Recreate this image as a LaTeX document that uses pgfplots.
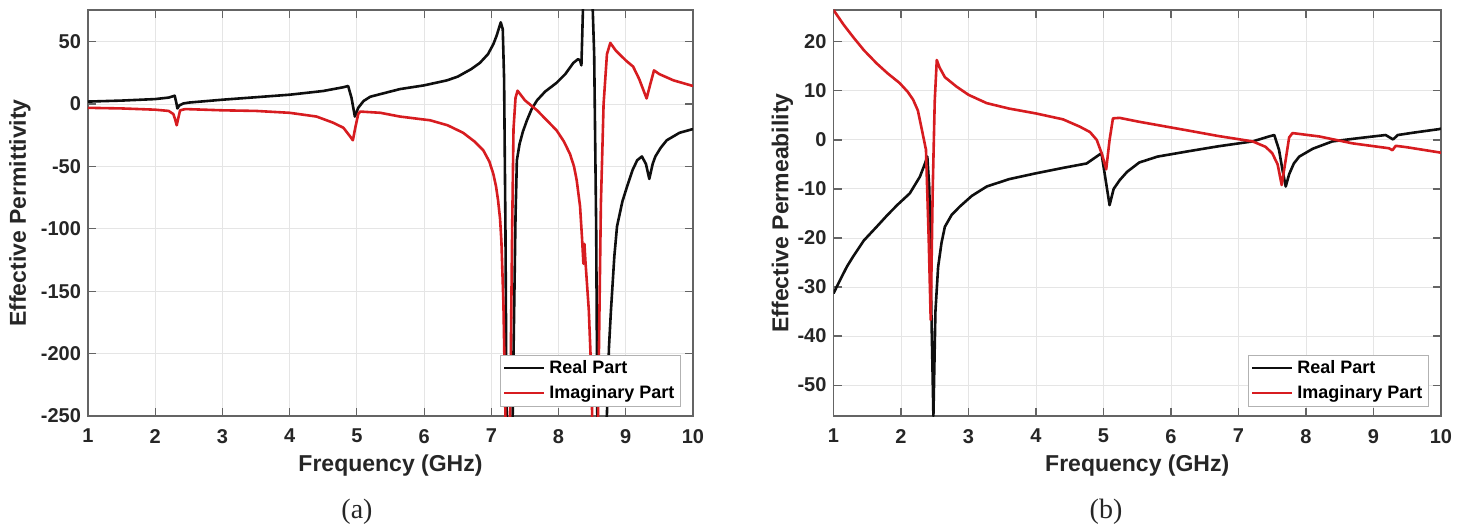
\documentclass[border=0pt]{standalone}
\usepackage{pgfplots}
\pgfplotsset{compat=1.18}
\usepackage{fontspec}
\setmainfont{Liberation Sans}
\newfontfamily\capfont{Liberation Serif}
\definecolor{myred}{RGB}{215,28,32}
\definecolor{myblack}{RGB}{15,15,15}
\definecolor{axgray}{RGB}{100,100,100}

\pgfplotsset{
 myax/.style={
  scale only axis, height=203pt,
  xmin=1, xmax=10, xtick={1,2,...,10},
  grid=major, major grid style={gray!20, line width=0.5pt},
  axis line style={axgray, line width=0.6pt},
  tick style={axgray, line width=0.6pt},
  tick align=inside, major tick length=4pt,
  ticklabel style={font=\bfseries\fontsize{10}{12}\selectfont, text=black!85},
  /pgf/number format/assume math mode=true,
  xticklabel style={yshift=-3pt},
  label style={font=\bfseries\fontsize{11.5}{13}\selectfont, text=black!85},
  xlabel style={at={(axis description cs:0.5,0)}, anchor=center, yshift=-25pt},
  legend cell align=left,
  legend image code/.code={\draw[#1] (0pt,0pt) -- (20pt,0pt);},
  legend style={at={(axis description cs:1,0)}, anchor=south east, xshift=-6pt, yshift=4.7pt,
    draw=gray!60, line width=0.5pt, font=\bfseries\fontsize{9}{10}\selectfont,
    inner xsep=1pt, inner ysep=0.5pt, row sep=0.5pt},
  every axis plot/.append style={line width=1.3pt, line join=round},
 }
}

\pgfplotstableread{
x y
1.0 2
1.5 2.8
2.0 4
2.2 5.2
2.29 6.7
2.31 2
2.33 -3.5
2.36 -1
2.42 0.5
2.5 1.2
3.0 3.5
3.5 5.5
4.0 7.5
4.5 10.5
4.8 13.5
4.87 14.5
4.92 5
4.97 -10
5.02 -3
5.1 2.5
5.2 5.9
5.35 8
5.64 12
6.0 15
6.34 19
6.5 22
6.7 28
6.83 33
6.95 40
7.03 48
7.08 55
7.12 62
7.14 65.5
7.17 60
7.19 20
7.21 -100
7.23 -280
7.31 -280
7.33 -200
7.36 -90
7.38 -45
7.42 -32
7.47 -22
7.53 -13
7.6 -4
7.68 3
7.8 10
7.97 17
8.1 24
8.22 33
8.29 36
8.32 35
8.34 31
8.35 50
8.37 90
8.50 90
8.53 40
8.56 -100
8.58 -280
8.69 -280
8.72 -248
8.75 -195
8.78 -165
8.83 -122
8.87 -98
8.95 -78
9.02 -66
9.1 -53
9.17 -45
9.24 -42
9.3 -48
9.35 -60
9.4 -48
9.44 -42
9.52 -35
9.61 -29
9.8 -23
10 -20
}\epsreal

\pgfplotstableread{
x y
1.0 -3
1.5 -3.5
2.0 -4.5
2.2 -5.5
2.27 -8
2.3 -13
2.32 -17
2.34 -12
2.37 -5
2.45 -4
3.0 -5
3.5 -5.5
4.0 -7
4.4 -10
4.65 -15
4.8 -19
4.9 -26
4.94 -29
4.98 -18
5.02 -8
5.05 -6
5.35 -7
5.64 -10
6.09 -13
6.35 -17
6.58 -23
6.75 -30
6.88 -37
6.97 -46
7.03 -56
7.07 -66
7.1 -77
7.13 -92
7.15 -110
7.18 -160
7.2 -220
7.22 -280
7.27 -280
7.29 -200
7.31 -100
7.33 -20
7.36 5
7.39 10.7
7.5 3
7.68 -5
7.97 -21
8.08 -30
8.17 -40
8.23 -50
8.27 -61
8.32 -82
8.35 -108
8.37 -128
8.385 -112
8.40 -126
8.45 -165
8.49 -220
8.51 -280
8.58 -280
8.6 -200
8.63 -80
8.67 0
8.72 40
8.77 49
8.85 43
9.0 35
9.11 30
9.2 20
9.31 4.5
9.36 15
9.42 27
9.5 24
9.71 19
10 14.5
}\epsimag

\pgfplotstableread{
x y
1.0 -31.3
1.1 -28.5
1.2 -25.8
1.29 -23.8
1.45 -20.5
1.64 -17.7
1.8 -15.3
1.95 -13.2
2.13 -10.9
2.28 -7.5
2.35 -5
2.39 -3.4
2.42 -10
2.45 -35
2.48 -56.3
2.51 -35
2.55 -25.9
2.6 -21
2.65 -17.7
2.75 -15.3
2.87 -13.6
3.05 -11.4
3.27 -9.5
3.6 -8
4.0 -6.8
4.4 -5.7
4.75 -4.8
4.97 -2.7
5.03 -8
5.09 -13.3
5.15 -10
5.24 -8.2
5.35 -6.5
5.53 -4.6
5.8 -3.4
6.22 -2.4
6.7 -1.3
7.21 -0.3
7.45 0.7
7.53 1
7.6 -2
7.65 -6
7.7 -9.5
7.75 -7
7.82 -4.8
7.9 -3.4
8.1 -1.8
8.39 -0.3
8.8 0.4
9.18 1
9.29 0.1
9.36 1
9.6 1.5
9.97 2.2
10 2.3
}\mureal

\pgfplotstableread{
x y
1.0 26.5
1.15 23.5
1.29 21
1.45 18.3
1.64 15.6
1.8 13.6
1.98 11.6
2.1 9.8
2.18 8.2
2.25 6
2.3 2.7
2.37 -2
2.41 -20
2.44 -36.7
2.47 -10
2.5 8
2.53 16.3
2.57 14.8
2.65 12.8
2.82 10.9
3.0 9.2
3.27 7.5
3.6 6.4
4.0 5.4
4.4 4.2
4.65 2.7
4.8 1.6
4.9 0
4.98 -3
5.04 -6
5.09 0
5.14 4.4
5.24 4.5
5.53 3.7
6.22 2
6.7 0.8
7.21 -0.3
7.4 -1.4
7.5 -2.7
7.58 -5
7.64 -9.2
7.7 -4
7.75 0.5
7.8 1.4
8.2 0.7
8.69 -0.7
9.23 -1.7
9.28 -2.1
9.33 -1.2
9.5 -1.5
10 -2.6
}\muimag

\begin{document}
\begin{tikzpicture}
\path[use as bounding box] (0,0) rectangle (734.5pt,263.5pt);

\begin{axis}[myax, at={(44pt,55.5pt)}, anchor=south west, width=302.5pt,
  ymin=-250, ymax=75.4, ytick={-250,-200,...,50},
  xlabel={Frequency (GHz)}, ylabel={Effective Permittivity},
  ylabel style={at={(axis description cs:-0.1124,0.5)}, anchor=center}]
\addplot[myblack] table {\epsreal};
\addplot[myred] table {\epsimag};
\legend{Real Part, Imaginary Part}
\end{axis}

\begin{axis}[myax, at={(416.75pt,55.5pt)}, anchor=south west, width=303.75pt,
  ymin=-56.3, ymax=26.5, ytick={-50,-40,...,20},
  xlabel={Frequency (GHz)}, ylabel={Effective Permeability},
  ylabel style={at={(axis description cs:-0.084,0.5)}, anchor=center}]
\addplot[myblack] table {\mureal};
\addplot[myred] table {\muimag};
\legend{Real Part, Imaginary Part}
\end{axis}

\node[font=\capfont\fontsize{14}{16}\selectfont, text=black!85] at (178.5pt,7.5pt) {(a)};
\node[font=\capfont\fontsize{14}{16}\selectfont, text=black!85] at (553pt,7.5pt) {(b)};
\end{tikzpicture}
\end{document}
